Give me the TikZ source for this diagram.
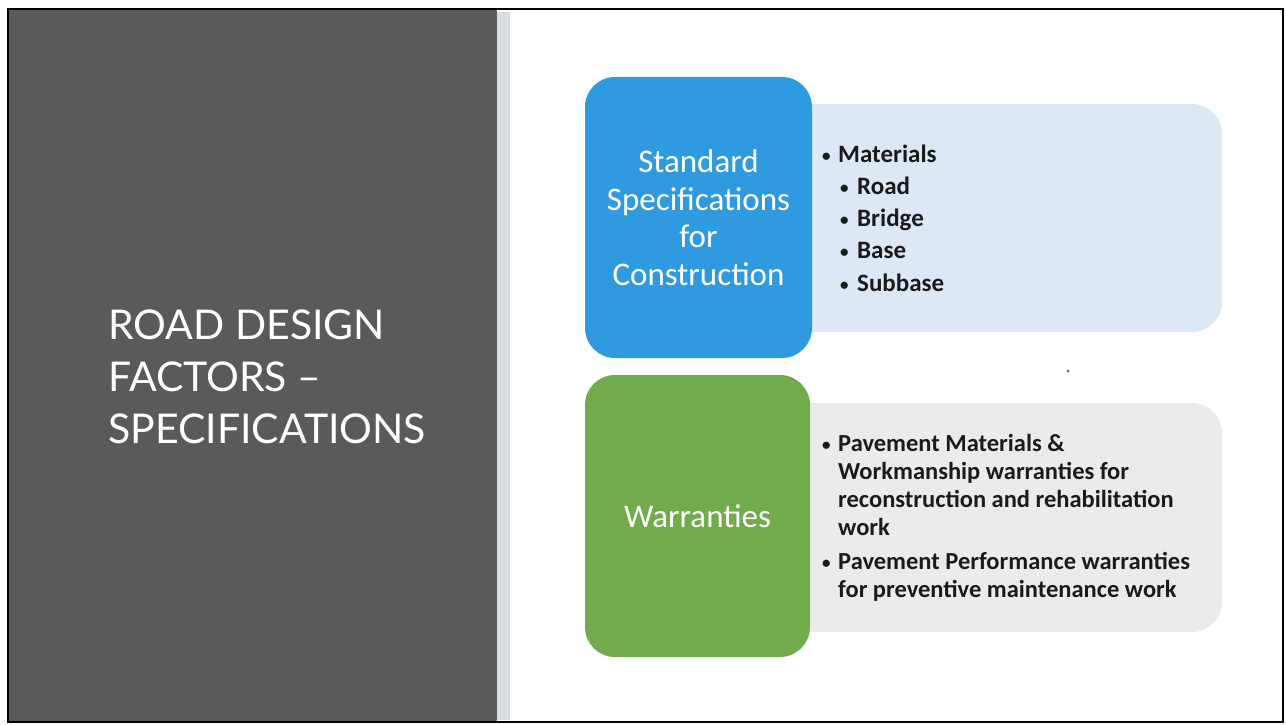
\documentclass[tikz,border=0pt]{standalone}
\usepackage{fontspec}
\setmainfont{Carlito}
\newfontfamily\titlefont{Lato}
\definecolor{panel}{HTML}{595A5C}
\definecolor{strip}{HTML}{D9DCE0}
\definecolor{bluebox}{HTML}{2F9AE0}
\definecolor{lightblue}{HTML}{DDE8F5}
\definecolor{greenbox}{HTML}{72AB4B}
\definecolor{graybox}{HTML}{EBEBEB}
\definecolor{bodytext}{HTML}{1A1A1A}
\newcommand{\bul}{\makebox[16pt][l]{\raisebox{1pt}{\fontsize{17}{17}\selectfont•}}}
\newcommand{\subbul}{\makebox[17pt][l]{\raisebox{1pt}{\fontsize{17}{17}\selectfont•}}}
\begin{document}
\begin{tikzpicture}[x=1pt,y=-1pt,
  mainbox/.style={rounded corners=30pt, inner sep=0pt, align=center, text=white,
    font=\fontsize{33}{37.5}\selectfont},
  sidebox/.style={rounded corners=30pt, inner sep=0pt},
  titleline/.style={anchor=base west, inner sep=0pt, text=white,
    font=\titlefont\fontsize{41}{50}\selectfont},
  listline/.style={anchor=base west, inner sep=0pt, text=bodytext,
    font=\fontsize{25}{28}\selectfont\bfseries},
  wline/.style={anchor=base west, inner sep=0pt, text=bodytext,
    font=\fontsize{24.5}{28}\selectfont\bfseries}]
\useasboundingbox (0,0) rectangle (1286,725);
\fill[white] (0,0) rectangle (1286,725);
% left panel and strip
\fill[panel] (9,9) rectangle (497,722);
\fill[strip] (497,12) rectangle (510,720);
\draw[black, line width=1.8pt] (8,9) rectangle (1283,722);
% title
\node[titleline] (t1) at (108,339) {ROAD DESIGN};
\node[titleline] (t2) at (108,391) {FACTORS –};
\node[titleline] (t3) at (108,443) {SPECIFICATIONS};
% side boxes
\node[sidebox, fill=lightblue, minimum width=442pt, minimum height=228pt] (lb) at (1001,218) {};
\node[sidebox, fill=graybox, minimum width=442pt, minimum height=229pt] (gb) at (1001,517.5) {};
% main boxes
\node[mainbox, fill=bluebox, minimum width=227pt, minimum height=281pt] (std) at (698.5,217.5)
  {Standard\\Specifications\\for\\Construction};
\node[mainbox, fill=greenbox, minimum width=225pt, minimum height=282pt] (war) at (697.5,516)
  {Warranties};
% list in blue side box
\node[listline] (b1) at (822,162) {\bul Materials};
\node[listline] (b2) at (840,194) {\subbul Road};
\node[listline] (b3) at (840,226) {\subbul Bridge};
\node[listline] (b4) at (840,258) {\subbul Base};
\node[listline] (b5) at (840,291) {\subbul Subbase};
% list in gray side box
\node[wline] (w1) at (822,451) {\bul};
\node[wline] (w1a) at (838,451) {Pavement Materials \&};
\node[wline] (w1b) at (838,479) {Workmanship warranties for};
\node[wline] (w1c) at (838,507) {reconstruction and rehabilitation};
\node[wline] (w1d) at (838,535) {work};
\node[wline] (w2) at (822,569) {\bul};
\node[wline] (w2a) at (838,569) {Pavement Performance warranties};
\node[wline] (w2b) at (838,597) {for preventive maintenance work};
% small dot
\fill[bluebox!70!black] (1068,371) circle (1.5pt);
\end{tikzpicture}
\end{document}
